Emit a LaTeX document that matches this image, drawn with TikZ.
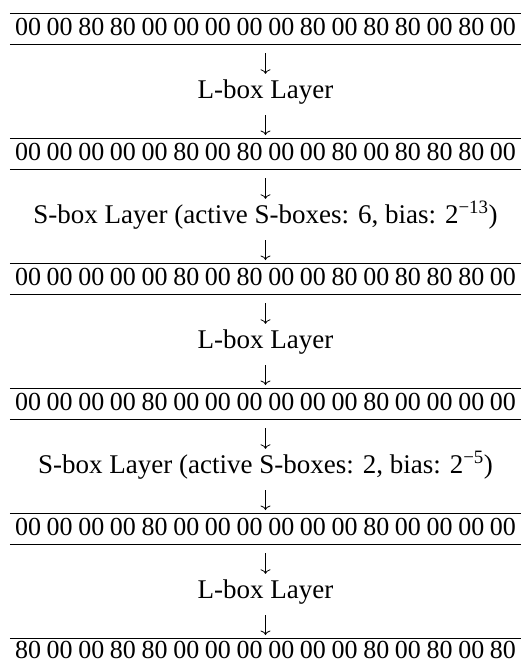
\documentclass[tikz,border=0pt]{standalone}
\usepackage{fontspec}
\setmainfont{Liberation Serif}
\usetikzlibrary{arrows.meta}
\tikzset{
  hexrow/.style={anchor=north, inner sep=0pt, minimum width=511pt,
    text height=22pt, text depth=9pt,
    font=\fontsize{26}{31}\selectfont},
  lastrow/.style={hexrow, text height=20.5pt, text depth=0pt},
  layerbox/.style={anchor=base, inner sep=0pt, text height=17pt, text depth=6pt,
    font=\fontsize{27}{32}\selectfont},
  rule/.style={line width=0.9pt, black},
  flowA/.style={line width=0.8pt, -{To[length=4.5pt,width=10pt]}, shorten <=9pt, shorten >=7pt},
  flowB/.style={line width=0.8pt, -{To[length=4.5pt,width=10pt]}, shorten <=11pt, shorten >=3pt}
}
\newcommand{\hexline}[1]{\makebox[501pt][s]{#1}}
\begin{document}
\begin{tikzpicture}[x=1pt,y=-1pt]
\useasboundingbox (0,0) rectangle (521,664);
% rows: top lines at 13,138,263,388,513,638 ; height 31
\node[hexrow] (r1) at (265.5,13)  {\hexline{00 00 80 80 00 00 00 00 00 80 00 80 80 00 80 00}};
\node[hexrow] (r2) at (265.5,138) {\hexline{00 00 00 00 00 80 00 80 00 00 80 00 80 80 80 00}};
\node[hexrow] (r3) at (265.5,263) {\hexline{00 00 00 00 00 80 00 80 00 00 80 00 80 80 80 00}};
\node[hexrow] (r4) at (265.5,388) {\hexline{00 00 00 00 80 00 00 00 00 00 00 80 00 00 00 00}};
\node[hexrow] (r5) at (265.5,513) {\hexline{00 00 00 00 80 00 00 00 00 00 00 80 00 00 00 00}};
\node[lastrow] (r6) at (265.5,638) {\hexline{80 00 00 80 80 00 00 00 00 00 00 80 00 80 00 80}};
\foreach \r in {r1,r2,r3,r4,r5}{
  \draw[rule] (\r.north west) -- (\r.north east);
  \draw[rule] (\r.south west) -- (\r.south east);
}
\draw[rule] (r6.north west) -- (r6.north east);
% layers: baseline at bottom line + 54
\node[layerbox] (l1) at (265.5,98)  {L-box Layer};
\node[layerbox] (l2) at (265.5,223) {S-box Layer (active S-boxes: 6, bias: 2\textsuperscript{−13})};
\node[layerbox] (l3) at (265.5,348) {L-box Layer};
\node[layerbox] (l4) at (265.5,473) {S-box Layer (active S-boxes: 2, bias: 2\textsuperscript{−5})};
\node[layerbox] (l5) at (265.5,598) {L-box Layer};
\draw[flowA] (r1.south) -- (l1.north);
\draw[flowB] (l1.south) -- (r2.north);
\draw[flowA] (r2.south) -- (l2.north);
\draw[flowB] (l2.south) -- (r3.north);
\draw[flowA] (r3.south) -- (l3.north);
\draw[flowB] (l3.south) -- (r4.north);
\draw[flowA] (r4.south) -- (l4.north);
\draw[flowB] (l4.south) -- (r5.north);
\draw[flowA] (r5.south) -- (l5.north);
\draw[flowB] (l5.south) -- (r6.north);
\end{tikzpicture}
\end{document}
